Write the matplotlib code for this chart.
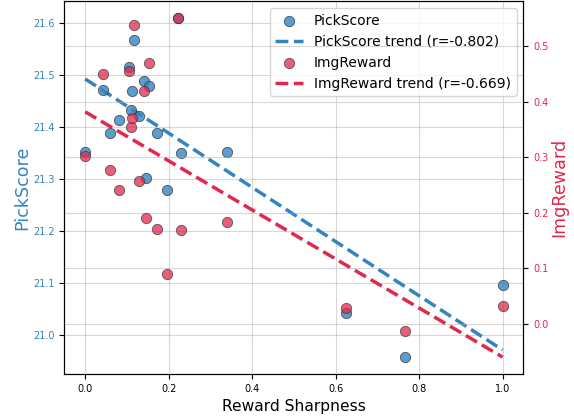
import numpy as np
import matplotlib
matplotlib.use('Agg')
import matplotlib.pyplot as plt

# reward sharpness per sample (shared x)
sharpness = [0.0, 0.043, 0.059, 0.082, 0.105, 0.111, 0.113, 0.117, 0.129, 0.141,
             0.145, 0.153, 0.172, 0.196, 0.222, 0.229, 0.339, 0.624, 0.767, 1.0]
pickscore = [21.353, 21.472, 21.389, 21.414, 21.517, 21.433, 21.469, 21.569, 21.421, 21.490,
             21.303, 21.479, 21.390, 21.279, 21.610, 21.350, 21.353, 21.042, 20.958, 21.096]
imgreward = [0.303, 0.451, 0.278, 0.241, 0.456, 0.355, 0.371, 0.538, 0.257, 0.420,
             0.191, 0.470, 0.171, 0.090, 0.551, 0.169, 0.184, 0.029, -0.013, 0.032]
r_pick = -0.802
r_img = -0.669

BLUE = '#3584c0'
RED = '#e0294f'


def main():
    x = np.array(sharpness)
    ps = np.array(pickscore)
    ir = np.array(imgreward)

    fig, ax1 = plt.subplots(figsize=(5.74, 4.17), dpi=100)
    ax2 = ax1.twinx()

    # 散布図
    s1 = ax1.scatter(x, ps, s=55, color=BLUE, alpha=0.8, edgecolor='#333333',
                     linewidth=0.6, label='PickScore', zorder=3)
    s2 = ax2.scatter(x, ir, s=55, color=RED, alpha=0.75, edgecolor='#333333',
                     linewidth=0.6, label='ImgReward', zorder=3)

    # 回帰直線
    xs = np.linspace(x.min(), x.max(), 50)
    k1, b1 = np.polyfit(x, ps, 1)
    k2, b2 = np.polyfit(x, ir, 1)
    l1, = ax1.plot(xs, k1 * xs + b1, '--', color=BLUE, lw=2.5,
                   label=f'PickScore trend (r={r_pick:.3f})')
    l2, = ax2.plot(xs, k2 * xs + b2, '--', color=RED, lw=2.5,
                   label=f'ImgReward trend (r={r_img:.3f})')

    ax1.set_xlabel('Reward Sharpness', fontsize=11.2)
    ax1.set_ylabel('PickScore', color=BLUE, fontsize=12.6, labelpad=1)
    ax2.set_ylabel('ImgReward', color=RED, fontsize=12.6, labelpad=1)
    ax1.tick_params(axis='y', labelcolor=BLUE, labelsize=7)
    ax2.tick_params(axis='y', labelcolor=RED, labelsize=7)
    ax1.tick_params(axis='x', labelsize=7)

    ax1.grid(True, alpha=0.5)
    ax2.grid(True, alpha=0.5)

    ax1.legend([s1, l1, s2, l2], [h.get_label() for h in (s1, l1, s2, l2)],
               loc='upper right', fontsize=10)

    fig.subplots_adjust(left=0.112, right=0.912, top=0.997, bottom=0.103)
    fig.savefig('out.png')


if __name__ == '__main__':
    main()
